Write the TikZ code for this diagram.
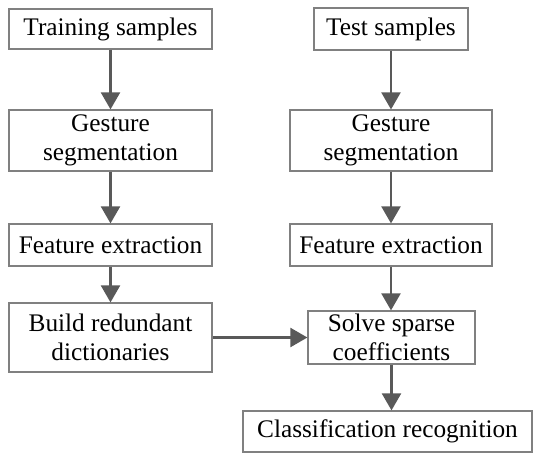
\documentclass[tikz,border=0pt]{standalone}
\usepackage{fontspec}
\setmainfont{Liberation Serif}
\usetikzlibrary{arrows.meta}
\definecolor{boxgray}{HTML}{808080}
\definecolor{arrgray}{HTML}{595959}
\begin{document}
\begin{tikzpicture}[x=1pt,y=-1pt,
  box/.style={draw=boxgray,line width=1.2pt,inner sep=0pt,align=center,
    font=\fontsize{25.3}{29}\selectfont},
  arr/.style={draw=arrgray,line width=2.2pt,-{Triangle[length=17pt,width=19pt]}}]
\useasboundingbox (0,0) rectangle (536,453);
\node[box,minimum width=203pt,minimum height=40pt] (train) at (110.5,29) {Training samples};
\node[box,minimum width=203pt,minimum height=61pt] (gl) at (110.5,140.5) {Gesture\\segmentation};
\node[box,minimum width=203pt,minimum height=42pt] (fl) at (110.5,245) {Feature extraction};
\node[box,minimum width=203pt,minimum height=69pt] (build) at (110.5,337.5) {Build redundant\\dictionaries};
\node[box,minimum width=154pt,minimum height=42pt] (test) at (391,29) {Test samples};
\node[box,minimum width=202pt,minimum height=61pt] (gr) at (391,140.5) {Gesture\\segmentation};
\node[box,minimum width=202pt,minimum height=42pt] (fr) at (391,245) {Feature extraction};
\node[box,minimum width=167pt,minimum height=53pt] (solve) at (391.5,337.5) {Solve sparse\\coefficients};
\node[box,minimum width=289pt,minimum height=41pt] (class) at (387.5,431.5) {Classification recognition};
\draw[arr] (train) -- (gl);
\draw[arr] (gl) -- (fl);
\draw[arr] (fl) -- (build);
\draw[arr] (test) -- (gr);
\draw[arr] (gr) -- (fr);
\draw[arr] (fr.south) -- (fr.south |- solve.north);
\draw[arr] (build) -- (solve);
\draw[arr] (solve.south) -- (solve.south |- class.north);
\end{tikzpicture}
\end{document}
